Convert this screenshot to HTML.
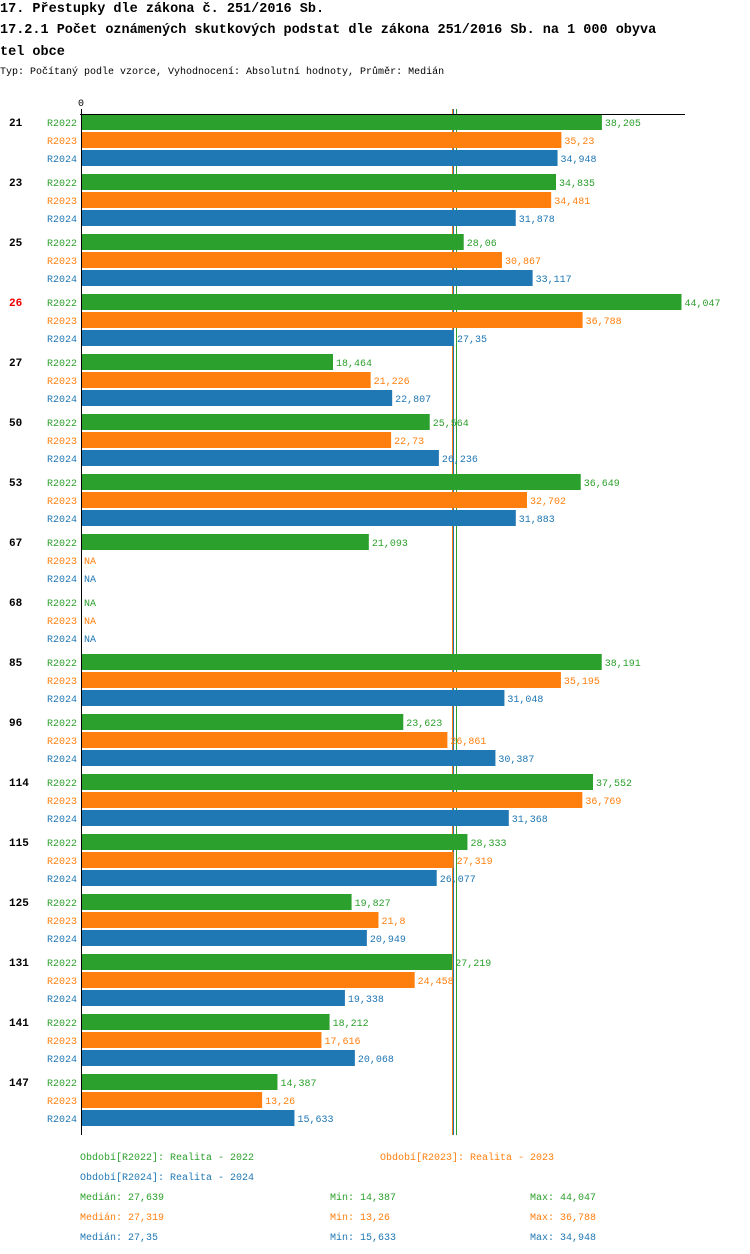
<!DOCTYPE html>
<html><head><meta charset="utf-8"><style>
body{margin:0;background:#fff;width:750px;height:1254px;overflow:hidden;font-family:"Liberation Mono",monospace}
.t{position:absolute;left:0;font-weight:bold;font-size:13.5px;white-space:nowrap;color:#000}
</style></head><body>
<div class="t" style="top:2px">17. Přestupky dle zákona č. 251/2016 Sb.</div>
<div class="t" style="top:23px">17.2.1 Počet oznámených skutkových podstat dle zákona 251/2016 Sb. na 1 000 obyva</div>
<div class="t" style="top:45px">tel obce</div>
<div style="position:absolute;top:67px;left:0;font-size:10px;white-space:nowrap">Typ: Počítaný podle vzorce, Vyhodnocení: Absolutní hodnoty, Průměr: Medián</div>
<svg id="c" width="750" height="1254" style="position:absolute;left:0;top:0" font-family="Liberation Mono, monospace" font-size="10"></svg>
<script>
const categories=["21","23","25","26","27","50","53","67","68","85","96","114","115","125","131","141","147"];
const series=["R2022","R2023","R2024"];
const colors=["#2ca02c","#ff7f0e","#1f77b4"];
const v2022=[38.205,34.835,28.06,44.047,18.464,25.564,36.649,21.093,null,38.191,23.623,37.552,28.333,19.827,27.219,18.212,14.387];
const v2023=[35.23,34.481,30.867,36.788,21.226,22.73,32.702,null,null,35.195,26.861,36.769,27.319,21.8,24.458,17.616,13.26];
const v2024=[34.948,31.878,33.117,27.35,22.807,26.236,31.883,null,null,31.048,30.387,31.368,26.077,20.949,19.338,20.068,15.633];
const medians=[27.639,27.319,27.35];
const mins=[14.387,13.26,15.633];
const maxs=[44.047,36.788,34.948];
const highlight="26";
const vals=[v2022,v2023,v2024];
const svg=document.getElementById('c');const NS='http://www.w3.org/2000/svg';
const x0=81.5,sc=600/44.047;
const X=v=>x0+v*sc;
const Y=(i,j)=>114+60*i+18*j;
function el(t,a,txt){const e=document.createElementNS(NS,t);for(const k in a)e.setAttribute(k,a[k]);if(txt!==undefined)e.textContent=txt;svg.appendChild(e);return e;}
const fmt=v=>String(v).replace('.',',');
[1,2,0].forEach(j=>{
 const xx=Math.round(X(medians[j])-1.5)+0.5;
 const m=el('line',{x1:xx,x2:xx,y1:109,y2:1135,stroke:colors[j],'stroke-width':1});
 
 
});
categories.forEach((c,i)=>{
 const g=el('text',{x:9,y:Y(i,0)+12,'font-weight':'bold','font-size':11,fill:c===highlight?'#e00':'#000'},c);
 
 
 series.forEach((s,j)=>{
  const v=vals[j][i];
  const l=el('text',{x:47,y:Y(i,j)+12,fill:colors[j]},s);
  
  
  if(v==null){
   const n=el('text',{x:84,y:Y(i,j)+12,fill:colors[j]},'NA');
   
   
   return;
  }
  const r=el('rect',{x:82,y:Y(i,j),width:X(v)-82,height:16,fill:colors[j]});
  
  
  const t=el('text',{x:X(v)+3,y:Y(i,j)+12,fill:colors[j]},fmt(v));
  
  
 });
});
const ax=el('line',{x1:80,x2:685,y1:114.5,y2:114.5,stroke:'#000'});


const ay=el('line',{x1:81.5,x2:81.5,y1:109,y2:1135,stroke:'#000'});


const z=el('text',{x:78,y:106,fill:'#000'},'0');


const leg=[["Období[R2022]: Realita - 2022",80,1160,0],["Období[R2023]: Realita - 2023",380,1160,1],["Období[R2024]: Realita - 2024",80,1180,2]];
leg.forEach(([s,x,y,j])=>{const t=el('text',{x:x,y:y,fill:colors[j]},s);
 
 });
series.forEach((s,j)=>{const y=1200+20*j;
 const a=el('text',{x:80,y:y,fill:colors[j]},'Medián: '+fmt(medians[j]));
 
 
 const b=el('text',{x:330,y:y,fill:colors[j]},'Min: '+fmt(mins[j]));
 
 
 const d=el('text',{x:530,y:y,fill:colors[j]},'Max: '+fmt(maxs[j]));
 
 
});
</script>
</body></html>
